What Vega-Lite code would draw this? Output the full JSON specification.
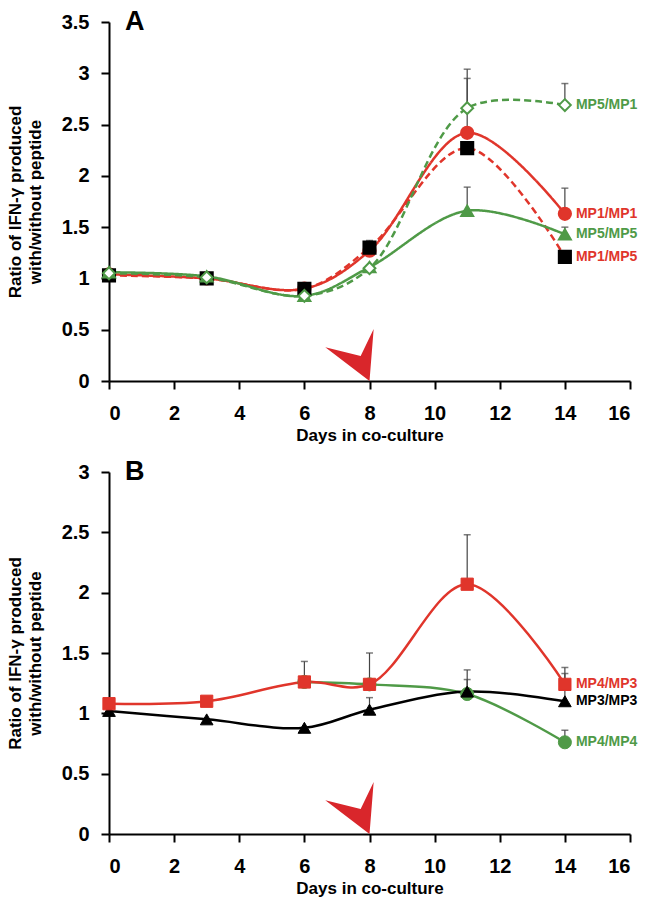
{
  "$schema": "https://vega.github.io/schema/vega-lite/v6.json",
  "padding": {"left": 6, "top": 8, "right": 5, "bottom": 5},
  "spacing": 15,
  "resolve": {"scale": {"color": "independent", "fill": "independent", "stroke": "independent", "shape": "independent", "size": "independent", "strokeDash": "independent"}},
  "datasets": {
    "a": [
      {"series": "MP1/MP1", "day": 0, "value": 1.04},
      {"series": "MP1/MP1", "day": 3, "value": 1.0},
      {"series": "MP1/MP1", "day": 6, "value": 0.9},
      {"series": "MP1/MP1", "day": 8, "value": 1.27},
      {"series": "MP1/MP1", "day": 11, "value": 2.42, "upper": 2.95},
      {"series": "MP1/MP1", "day": 14, "value": 1.63, "upper": 1.88},
      {"series": "MP1/MP5", "day": 0, "value": 1.03},
      {"series": "MP1/MP5", "day": 3, "value": 1.0},
      {"series": "MP1/MP5", "day": 6, "value": 0.9},
      {"series": "MP1/MP5", "day": 8, "value": 1.3, "upper": 1.37},
      {"series": "MP1/MP5", "day": 11, "value": 2.27},
      {"series": "MP1/MP5", "day": 14, "value": 1.21},
      {"series": "MP5/MP5", "day": 0, "value": 1.06},
      {"series": "MP5/MP5", "day": 3, "value": 1.02},
      {"series": "MP5/MP5", "day": 6, "value": 0.83},
      {"series": "MP5/MP5", "day": 8, "value": 1.11},
      {"series": "MP5/MP5", "day": 11, "value": 1.66, "upper": 1.89},
      {"series": "MP5/MP5", "day": 14, "value": 1.43, "upper": 1.5},
      {"series": "MP5/MP1", "day": 0, "value": 1.05},
      {"series": "MP5/MP1", "day": 3, "value": 1.01},
      {"series": "MP5/MP1", "day": 6, "value": 0.83},
      {"series": "MP5/MP1", "day": 8, "value": 1.1},
      {"series": "MP5/MP1", "day": 11, "value": 2.66, "upper": 3.04},
      {"series": "MP5/MP1", "day": 14, "value": 2.69, "upper": 2.9}
    ],
    "b": [
      {"series": "MP4/MP4", "day": 6, "value": 1.26},
      {"series": "MP4/MP4", "day": 8, "value": 1.24},
      {"series": "MP4/MP4", "day": 11, "value": 1.16, "upper": 1.36},
      {"series": "MP4/MP4", "day": 14, "value": 0.76, "upper": 0.86},
      {"series": "MP3/MP3", "day": 0, "value": 1.02},
      {"series": "MP3/MP3", "day": 3, "value": 0.95},
      {"series": "MP3/MP3", "day": 6, "value": 0.88},
      {"series": "MP3/MP3", "day": 8, "value": 1.03, "upper": 1.13},
      {"series": "MP3/MP3", "day": 11, "value": 1.18, "upper": 1.28},
      {"series": "MP3/MP3", "day": 14, "value": 1.1, "upper": 1.33},
      {"series": "MP4/MP3", "day": 0, "value": 1.08},
      {"series": "MP4/MP3", "day": 3, "value": 1.1},
      {"series": "MP4/MP3", "day": 6, "value": 1.26, "upper": 1.43},
      {"series": "MP4/MP3", "day": 8, "value": 1.24, "upper": 1.5},
      {"series": "MP4/MP3", "day": 11, "value": 2.07, "upper": 2.48},
      {"series": "MP4/MP3", "day": 14, "value": 1.24, "upper": 1.38}
    ],
    "arrow": [{"day": 8, "value": 0}]
  },
  "vconcat": [
    {
      "width": 521,
      "height": 359,
      "title": {"text": "A", "anchor": "start", "frame": "group", "fontSize": 27, "fontWeight": "bold", "dx": 16, "dy": 24, "offset": 0, "color": "black"},
      "data": {"name": "a"},
      "encoding": {
        "x": {"field": "day", "type": "quantitative", "scale": {"domain": [0, 16], "nice": false}, "axis": {"values": [0, 2, 4, 6, 8, 10, 12, 14, 16], "title": "Days in co-culture", "labelPadding": 14, "titlePadding": 4}},
        "y": {"field": "value", "type": "quantitative", "scale": {"domain": [0, 3.5], "nice": false}, "axis": {"values": [0, 0.5, 1, 1.5, 2, 2.5, 3, 3.5], "format": "~g", "title": ["Ratio of IFN-γ produced", "with/without peptide"], "labelPadding": 12, "titlePadding": 17}}
      },
      "layer": [
        {"transform": [{"filter": {"field": "upper", "valid": true}}], "mark": {"type": "rule", "color": "#444", "strokeWidth": 1.2}, "encoding": {"y2": {"field": "upper"}}},
        {"transform": [{"filter": {"field": "upper", "valid": true}}], "mark": {"type": "tick", "orient": "horizontal", "size": 7, "thickness": 1.5, "color": "#444"}, "encoding": {"y": {"field": "upper", "type": "quantitative", "axis": {"values": [0, 0.5, 1, 1.5, 2, 2.5, 3, 3.5], "format": "~g", "title": ["Ratio of IFN-γ produced", "with/without peptide"], "labelPadding": 12, "titlePadding": 17}}}},
        {"mark": {"type": "line", "interpolate": "catmull-rom", "strokeWidth": 2.5}, "encoding": {
          "color": {"field": "series", "type": "nominal", "scale": {"domain": ["MP5/MP1", "MP5/MP5", "MP1/MP5", "MP1/MP1"], "range": ["#4f9a47", "#4f9a47", "#e0352b", "#e0352b"]}, "legend": null},
          "strokeDash": {"field": "series", "type": "nominal", "scale": {"domain": ["MP5/MP1", "MP5/MP5", "MP1/MP5", "MP1/MP1"], "range": [[7, 4], [1, 0], [7, 4], [1, 0]]}, "legend": null}}},
        {"mark": {"type": "point", "filled": true, "strokeWidth": 2, "opacity": 1}, "encoding": {
          "shape": {"field": "series", "type": "nominal", "scale": {"domain": ["MP5/MP1", "MP5/MP5", "MP1/MP5", "MP1/MP1"], "range": ["diamond", "triangle-up", "square", "circle"]}, "legend": null},
          "fill": {"field": "series", "type": "nominal", "scale": {"domain": ["MP5/MP1", "MP5/MP5", "MP1/MP5", "MP1/MP1"], "range": ["white", "#4f9a47", "black", "#e0352b"]}, "legend": null},
          "stroke": {"field": "series", "type": "nominal", "scale": {"domain": ["MP5/MP1", "MP5/MP5", "MP1/MP5", "MP1/MP1"], "range": ["#4f9a47", "#4f9a47", "black", "#e0352b"]}, "legend": null},
          "size": {"field": "series", "type": "nominal", "scale": {"domain": ["MP5/MP1", "MP5/MP5", "MP1/MP5", "MP1/MP1"], "range": [140, 150, 150, 180]}, "legend": null}}},
        {"transform": [{"filter": "datum.day == 14"}], "mark": {"type": "text", "align": "left", "baseline": "middle", "dx": 11, "fontSize": 14, "fontWeight": "bold"}, "encoding": {"text": {"field": "series"}, "color": {"field": "series", "type": "nominal", "legend": null}}},
        {"data": {"name": "arrow"}, "mark": {"type": "point", "filled": true, "fill": "#d9262b", "opacity": 1, "strokeWidth": 0, "size": 10816, "shape": "M0,0 L0.08,-1 L-0.17,-0.48 L-0.85,-0.65 Z"}}
      ]
    },
    {
      "width": 521,
      "height": 362,
      "title": {"text": "B", "anchor": "start", "frame": "group", "fontSize": 27, "fontWeight": "bold", "dx": 16, "dy": 24, "offset": 0, "color": "black"},
      "data": {"name": "b"},
      "encoding": {
        "x": {"field": "day", "type": "quantitative", "scale": {"domain": [0, 16], "nice": false}, "axis": {"values": [0, 2, 4, 6, 8, 10, 12, 14, 16], "title": "Days in co-culture", "labelPadding": 14, "titlePadding": 4}},
        "y": {"field": "value", "type": "quantitative", "scale": {"domain": [0, 3], "nice": false}, "axis": {"values": [0, 0.5, 1, 1.5, 2, 2.5, 3], "format": "~g", "title": ["Ratio of IFN-γ produced", "with/without peptide"], "labelPadding": 12, "titlePadding": 17}}
      },
      "layer": [
        {"transform": [{"filter": {"field": "upper", "valid": true}}], "mark": {"type": "rule", "color": "#444", "strokeWidth": 1.2}, "encoding": {"y2": {"field": "upper"}}},
        {"transform": [{"filter": {"field": "upper", "valid": true}}], "mark": {"type": "tick", "orient": "horizontal", "size": 7, "thickness": 1.5, "color": "#444"}, "encoding": {"y": {"field": "upper", "type": "quantitative", "axis": {"values": [0, 0.5, 1, 1.5, 2, 2.5, 3], "format": "~g", "title": ["Ratio of IFN-γ produced", "with/without peptide"], "labelPadding": 12, "titlePadding": 17}}}},
        {"mark": {"type": "line", "interpolate": "catmull-rom", "strokeWidth": 2.5}, "encoding": {
          "color": {"field": "series", "type": "nominal", "scale": {"domain": ["MP4/MP4", "MP3/MP3", "MP4/MP3"], "range": ["#4f9a47", "black", "#e0352b"]}, "legend": null}}},
        {"mark": {"type": "point", "filled": true, "strokeWidth": 1, "opacity": 1}, "encoding": {
          "shape": {"field": "series", "type": "nominal", "scale": {"domain": ["MP4/MP4", "MP3/MP3", "MP4/MP3"], "range": ["circle", "triangle-up", "square"]}, "legend": null},
          "fill": {"field": "series", "type": "nominal", "scale": {"domain": ["MP4/MP4", "MP3/MP3", "MP4/MP3"], "range": ["#4f9a47", "black", "#e0352b"]}, "legend": null},
          "stroke": {"field": "series", "type": "nominal", "scale": {"domain": ["MP4/MP4", "MP3/MP3", "MP4/MP3"], "range": ["#4f9a47", "black", "#e0352b"]}, "legend": null},
          "size": {"field": "series", "type": "nominal", "scale": {"domain": ["MP4/MP4", "MP3/MP3", "MP4/MP3"], "range": [170, 150, 190]}, "legend": null}}},
        {"transform": [{"filter": "datum.day == 14"}], "mark": {"type": "text", "align": "left", "baseline": "middle", "dx": 11, "fontSize": 14, "fontWeight": "bold"}, "encoding": {"text": {"field": "series"}, "color": {"field": "series", "type": "nominal", "legend": null}}},
        {"data": {"name": "arrow"}, "mark": {"type": "point", "filled": true, "fill": "#d9262b", "opacity": 1, "strokeWidth": 0, "size": 10816, "shape": "M0,0 L0.08,-1 L-0.17,-0.48 L-0.85,-0.65 Z"}}
      ]
    }
  ],
  "config": {
    "font": "Liberation Sans",
    "view": {"stroke": null},
    "axis": {"grid": false, "domainColor": "black", "domainWidth": 2, "tickColor": "black", "tickWidth": 2, "tickSize": 8, "labelFont": "Liberation Sans", "labelFontWeight": "bold", "labelFontSize": 20, "labelColor": "black", "titleFont": "Liberation Sans", "titleFontWeight": "bold", "titleFontSize": 17, "titleColor": "black", "titleLineHeight": 20}
  }
}
